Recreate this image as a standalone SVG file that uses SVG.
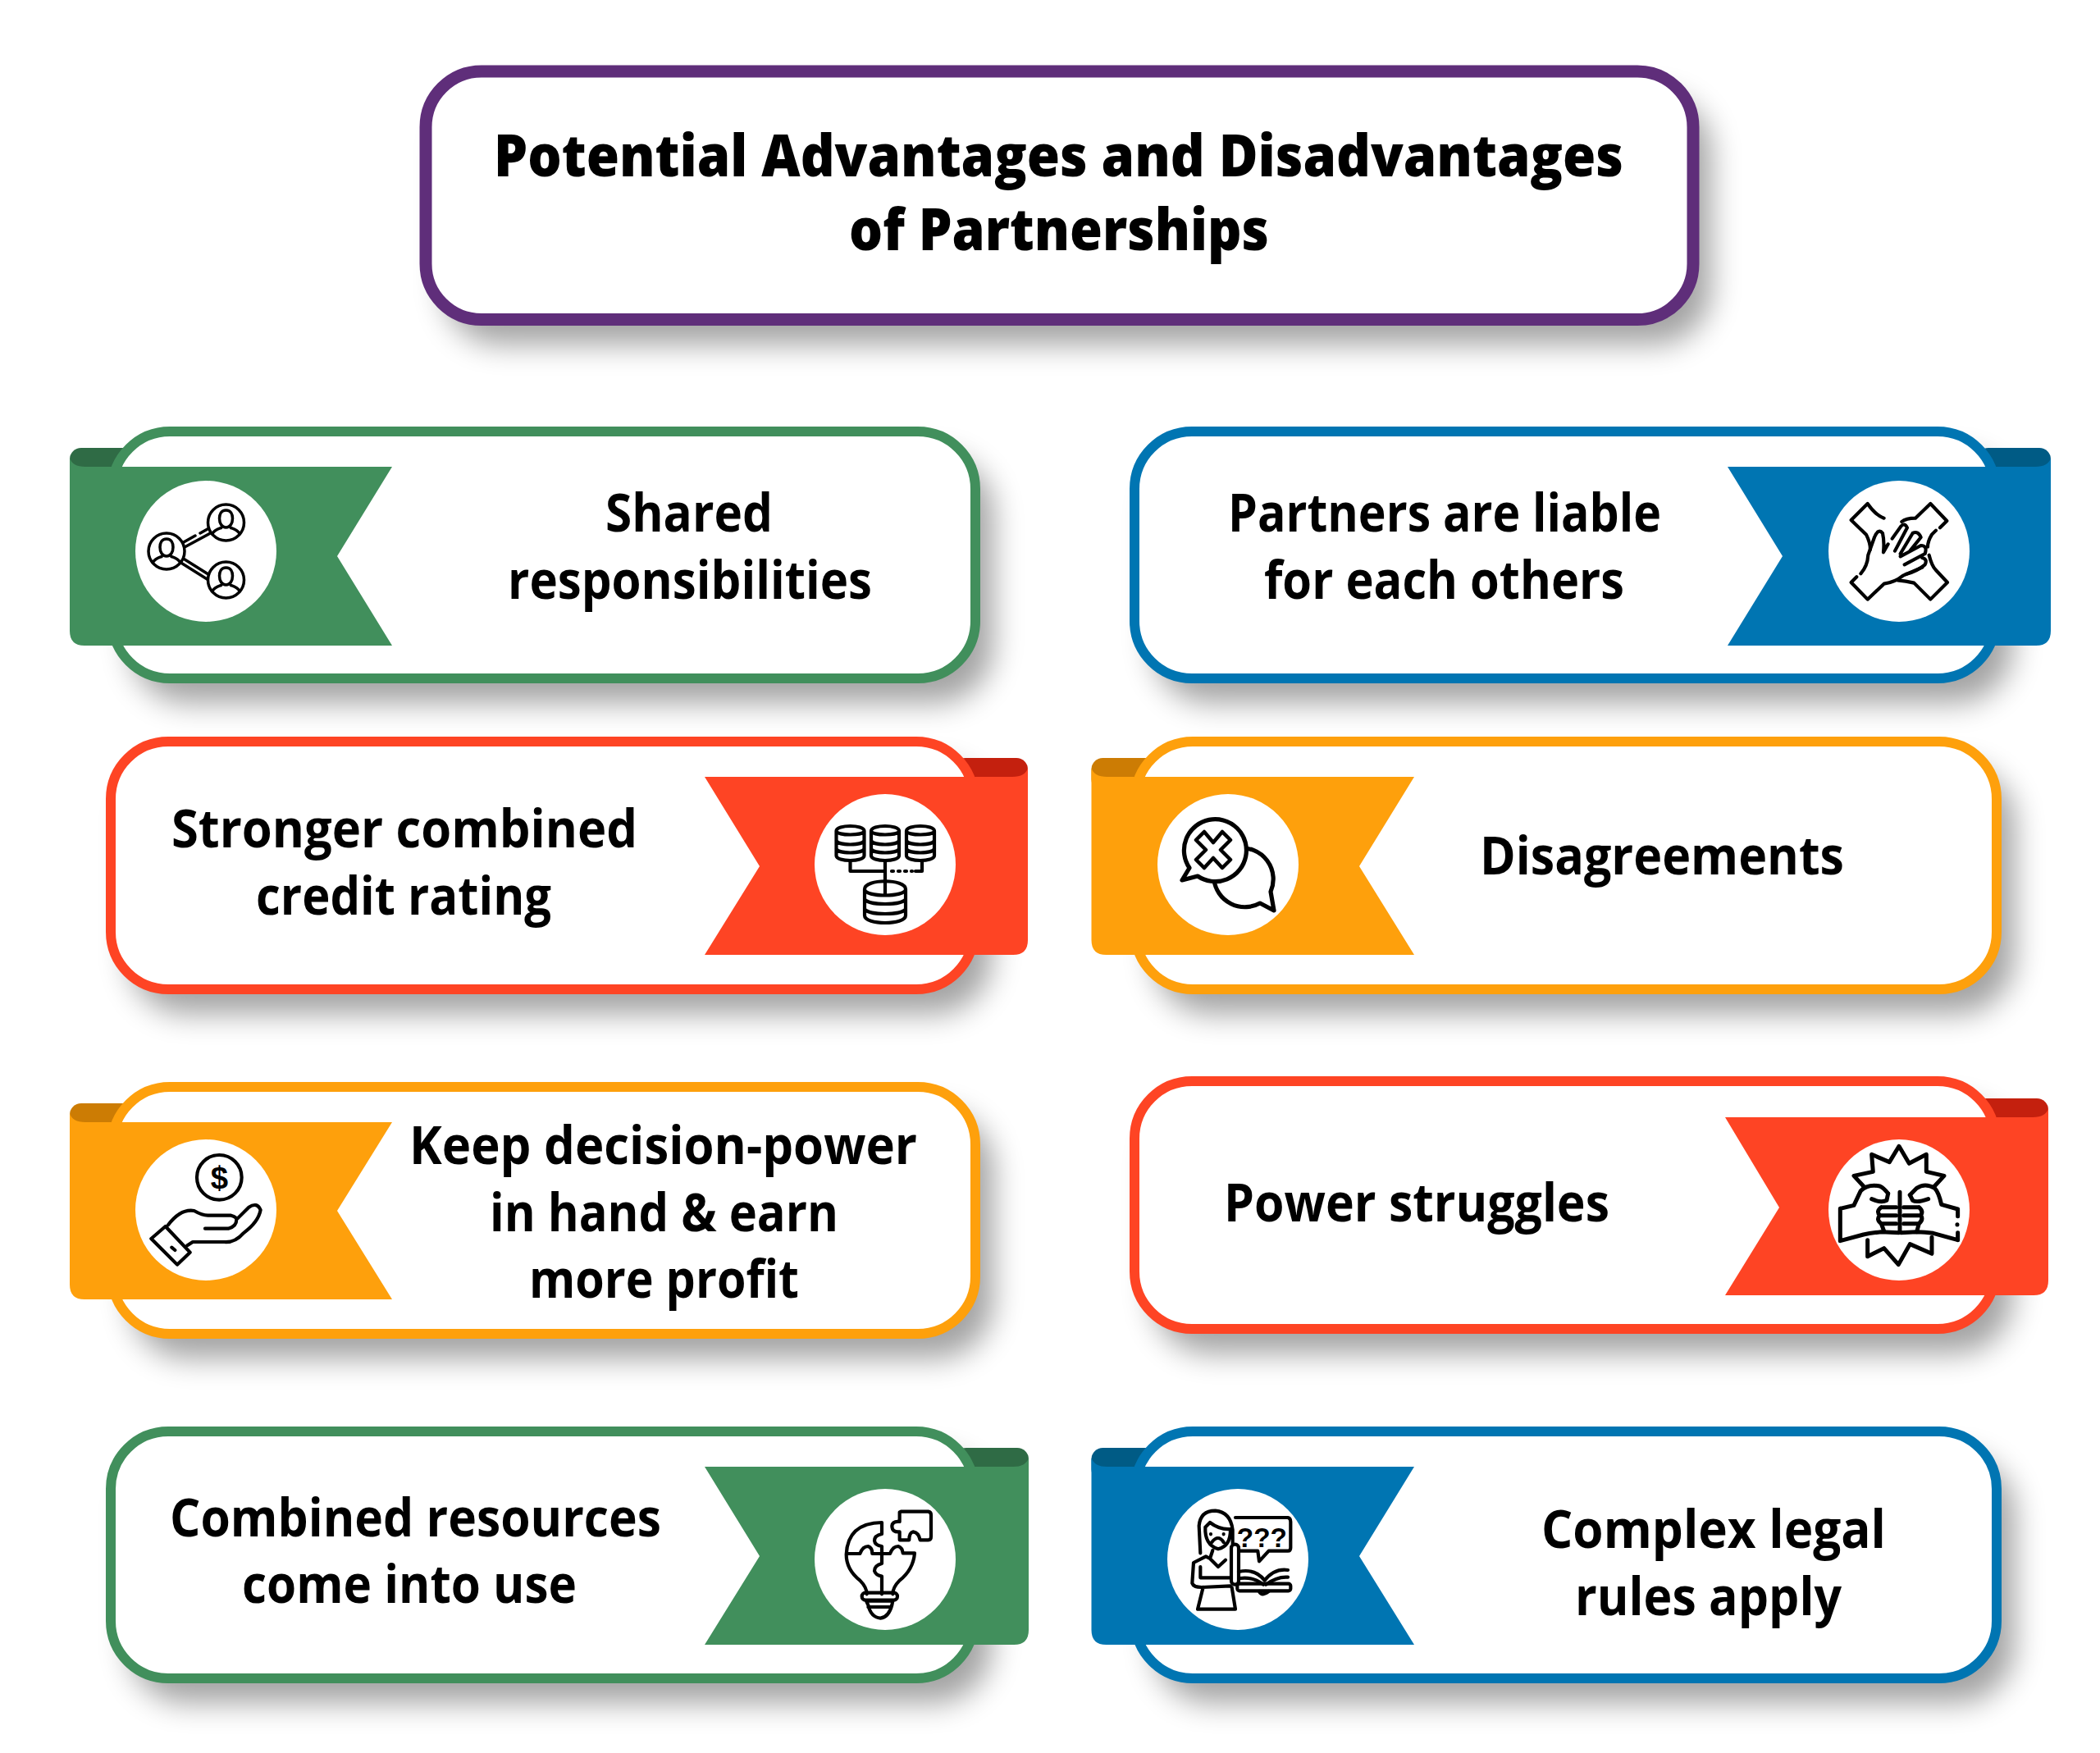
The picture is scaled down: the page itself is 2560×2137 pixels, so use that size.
<svg xmlns="http://www.w3.org/2000/svg" xmlns:xlink="http://www.w3.org/1999/xlink" width="2560" height="2137" viewBox="0 0 2560 2137">
<style>
text{font-family:"Open Sans","Noto Sans","Liberation Sans",sans-serif;fill:#000}
.t{font-size:64px;font-weight:700}
.h{font-size:71px;font-weight:800}
.sh{fill:#000;opacity:.36;filter:url(#blur)}
.card{fill:#fff;stroke-width:12}
.g .card{stroke:#418f5c}.g .rb{fill:#418f5c}.g .fd{fill:#2f6b45}
.b .card{stroke:#0075b2}.b .rb{fill:#0075b2}.b .fd{fill:#005b85}
.r .card{stroke:#fe4424}.r .rb{fill:#fe4424}.r .fd{fill:#c4200e}
.o .card{stroke:#fea00c}.o .rb{fill:#fea00c}.o .fd{fill:#cc7c04}
.disc{fill:#fff}
.i{fill:none;stroke:#000;stroke-width:4.200;stroke-linecap:round;stroke-linejoin:round}
.z{fill:none;stroke:#000;stroke-width:12.500;stroke-linecap:round;stroke-linejoin:round}
.gly{font-family:"Liberation Sans",sans-serif;font-weight:700}
</style>
<defs>
<filter id="blur" x="-10%" y="-30%" width="120%" height="170%"><feGaussianBlur stdDeviation="18"/></filter>
<g id="person"><circle r="22" fill="#fff"/><circle r="22" class="i" style="stroke-width:3.500"/><path class="i" style="stroke-width:3.500" d="M0 -15C-6 -15 -8 -10 -8 -5C-8 1 -5 6 0 6C5 6 8 1 8 -5C8 -10 6 -15 0 -15ZM-17 14C-14 9 -10 8 -6 6.500M17 14C14 9 10 8 6 6.500"/></g>
<g id="db"><path class="i" d="M-17 7C-17 -1 17 -1 17 7C17 13 -17 13 -17 7ZM-17 7V37C-17 45 17 45 17 37V7M-17 19C-14 25 14 25 17 19M-17 29C-14 35 14 35 17 29"/></g>
</defs>

<g id="title">
<rect class="sh" x="541" y="117" width="1545" height="303" rx="68"/>
<rect x="519" y="87" width="1545" height="302.500" rx="68" fill="#fff" stroke="#5f2e7a" stroke-width="15"/>
<text class="h" x="602" y="215" textLength="1377" lengthAdjust="spacingAndGlyphs">Potential Advantages and Disadvantages</text>
<text class="h" x="1035" y="305" textLength="512" lengthAdjust="spacingAndGlyphs">of Partnerships</text>
</g>

<g id="card-shared" class="g">
<rect class="sh" x="159" y="556" width="1052" height="301" rx="70"/>
<rect class="fd" x="85" y="546" width="90" height="40" rx="14"/>
<rect class="card" x="137" y="526" width="1052" height="301" rx="70"/>
<path class="rb" d="M85 558Q88 569 104 569H478L411 678L478 787H103Q85 787 85 769Z"/>
<circle class="disc" cx="251" cy="672" r="86"/>
<path class="i" style="stroke-width:3.500" d="M222 662L238 653M244 650L258 642M225 667L260 648M222 680L257 702M219 685L254 707"/>
<use xlink:href="#person" href="#person" x="275.500" y="637"/>
<use xlink:href="#person" href="#person" x="203" y="672"/>
<use xlink:href="#person" href="#person" x="275.500" y="707"/>
<text class="t" x="738" y="648" textLength="204" lengthAdjust="spacingAndGlyphs">Shared</text>
<text class="t" x="619" y="730" textLength="444" lengthAdjust="spacingAndGlyphs">responsibilities</text>
</g>

<g id="card-liable" class="b">
<rect class="sh" x="1405" y="556" width="1049" height="301" rx="70"/>
<rect class="fd" x="2410" y="546" width="90" height="40" rx="14"/>
<rect class="card" x="1383" y="526" width="1049" height="301" rx="70"/>
<path class="rb" d="M2500 558Q2497 569 2481 569H2106L2173 678L2106 787H2482Q2500 787 2500 769Z"/>
<circle class="disc" cx="2315" cy="672" r="86"/>
<g transform="translate(2080 500) scale(.3333)">
<path class="z" d="M650 395Q620 385 590 342L530 402L585 455Q600 485 600 510M715 408Q730 395 765 395L820 342L880 405L855 430M840 440L825 455Q810 480 810 500M815 530Q825 570 840 585L882 630L820 692L760 632Q730 625 700 622M550 610L530 630L590 692L650 635Q690 630 720 605L790 575"/>
<path class="z" d="M565 598Q590 570 592 530L615 465Q630 430 645 450Q652 480 648 520L665 490M680 470L712 425Q725 410 735 430L690 515M710 525L755 450Q775 440 785 465L745 515M710 535L785 495Q810 495 800 525L725 565M790 540Q810 545 800 565Q770 590 730 600"/>
</g>
<text class="t" x="1497" y="648" textLength="528" lengthAdjust="spacingAndGlyphs">Partners are liable</text>
<text class="t" x="1541" y="730" textLength="439" lengthAdjust="spacingAndGlyphs">for each others</text>
</g>

<g id="card-credit" class="r">
<rect class="sh" x="157" y="934" width="1052" height="302" rx="70"/>
<rect class="fd" x="1163" y="924" width="90" height="40" rx="14"/>
<rect class="card" x="135" y="904" width="1052" height="302" rx="70"/>
<path class="rb" d="M1253 936Q1250 947 1234 947H859L926 1056L859 1164H1235Q1253 1164 1253 1146Z"/>
<circle class="disc" cx="1079" cy="1054" r="86"/>
<use xlink:href="#db" href="#db" x="1036.500" y="1006"/>
<use xlink:href="#db" href="#db" x="1079" y="1006"/>
<use xlink:href="#db" href="#db" x="1122" y="1006"/>
<path class="i" d="M1036.500 1049V1062H1079M1079 1049V1090M1124 1049V1062H1116"/>
<path class="i" stroke-dasharray="2 6" d="M1087 1062H1112"/>
<path class="i" d="M1054 1084C1054 1071 1104 1071 1104 1084C1104 1094 1054 1094 1054 1084ZM1054 1084V1116C1054 1128 1104 1128 1104 1116V1084M1054 1096C1058 1104 1100 1104 1104 1096M1054 1108C1058 1116 1100 1116 1104 1108"/>
<text class="t" x="209" y="1033" textLength="568" lengthAdjust="spacingAndGlyphs">Stronger combined</text>
<text class="t" x="312" y="1115" textLength="360" lengthAdjust="spacingAndGlyphs">credit rating</text>
</g>

<g id="card-disagreements" class="o">
<rect class="sh" x="1406" y="934" width="1050" height="302" rx="70"/>
<rect class="fd" x="1330.500" y="924" width="90" height="40" rx="14"/>
<rect class="card" x="1384" y="904" width="1050" height="302" rx="70"/>
<path class="rb" d="M1330.500 936Q1333.500 947 1349.500 947H1724L1657 1056L1724 1164H1348.500Q1330.500 1164 1330.500 1146Z"/>
<circle class="disc" cx="1497" cy="1054" r="86"/>
<path class="i" style="stroke-width:5.200" d="M1510 1034A38 38 0 0 1 1549 1087L1553 1110L1536 1101A38 38 0 0 1 1480 1073"/>
<path class="i" style="stroke-width:5.200;fill:#fff" d="M1450 1058L1441 1073L1460 1068A38 38 0 1 0 1450 1058Z"/>
<path class="i" style="stroke-width:4.500" d="M1479 1027L1490 1014L1500 1024L1488 1036L1500 1048L1490 1058L1479 1046L1468 1058L1458 1048L1470 1036L1458 1024L1468 1014Z"/>
<text class="t" x="1804" y="1066" textLength="444" lengthAdjust="spacingAndGlyphs">Disagreements</text>
</g>

<g id="card-profit" class="o">
<rect class="sh" x="159" y="1355" width="1052" height="301" rx="70"/>
<rect class="fd" x="85" y="1345" width="90" height="40" rx="14"/>
<rect class="card" x="137" y="1325" width="1052" height="301" rx="70"/>
<path class="rb" d="M85 1357Q88 1368 104 1368H478L411 1476L478 1584H103Q85 1584 85 1566Z"/>
<circle class="disc" cx="251" cy="1475" r="86"/>
<g transform="translate(140 1340) scale(.3333)">
<circle class="z" cx="382" cy="286" r="82"/>
<path class="z" d="M195 460Q240 400 290 408Q320 425 340 425H425Q445 430 445 440L490 395Q520 375 533 405Q525 450 470 490Q440 525 400 522H285L265 535M330 473H415Q445 465 445 440M133 510L185 465L275 560L228 605ZM208 542L220 552"/>
<text class="gly" x="382" y="326" font-size="115" text-anchor="middle">$</text>
</g>
<text class="t" x="499" y="1419" textLength="619" lengthAdjust="spacingAndGlyphs">Keep decision-power</text>
<text class="t" x="597" y="1501" textLength="425" lengthAdjust="spacingAndGlyphs">in hand &amp; earn</text>
<text class="t" x="645" y="1582" textLength="329" lengthAdjust="spacingAndGlyphs">more profit</text>
</g>

<g id="card-power" class="r">
<rect class="sh" x="1405" y="1348" width="1049" height="302" rx="70"/>
<rect class="fd" x="2407" y="1339" width="90" height="40" rx="14"/>
<rect class="card" x="1383" y="1318" width="1049" height="302" rx="70"/>
<path class="rb" d="M2497 1351Q2494 1362 2478 1362H2103L2169 1472L2103 1579H2479Q2497 1579 2497 1561Z"/>
<circle class="disc" cx="2315" cy="1475" r="86"/>
<g transform="translate(2080 1320) scale(.3333)">
<path class="z" style="stroke-width:15" d="M575 378L540 340L610 325L605 262L670 290L705 232L742 295L805 262L805 325L870 340L835 378M590 575V635L650 605L703 665L745 590L825 625V565"/>
<path class="z" style="stroke-width:15" d="M920 462L860 445Q850 400 835 385Q800 365 770 385L745 410M920 575L830 550Q800 545 770 545L712 548M490 460V578L575 555Q600 550 640 545L705 548M490 460L540 448L565 395Q590 370 635 378Q650 385 665 405M708 400V545M920 462V488M920 548V575M918 518V519"/>
<path class="z" style="stroke-width:15" d="M605 425Q640 440 660 430L665 405M812 425Q770 440 755 430L745 410M640 455H695M635 485H695M640 515H695M650 542L640 515M640 455Q620 470 635 485Q620 500 640 515M722 455H778M722 485H785M722 515H778M778 455Q795 470 785 485Q795 500 778 515L770 545"/>
</g>
<text class="t" x="1492" y="1489" textLength="470" lengthAdjust="spacingAndGlyphs">Power struggles</text>
</g>

<g id="card-resources" class="g">
<rect class="sh" x="157" y="1775" width="1052" height="301" rx="70"/>
<rect class="fd" x="1164" y="1765" width="90" height="40" rx="14"/>
<rect class="card" x="135" y="1745" width="1052" height="301" rx="70"/>
<path class="rb" d="M1254 1777Q1251 1788 1235 1788H859L926 1897L859 2005H1236Q1254 2005 1254 1987Z"/>
<circle class="disc" cx="1079" cy="1901" r="86"/>
<g transform="translate(980 1780) scale(.3333)">
<path class="z" d="M285 228Q160 230 155 345Q155 400 205 440Q230 465 230 490M405 340Q400 400 350 440Q325 465 325 490M155 342H205Q215 315 235 315Q250 320 250 342H315Q325 315 345 315Q360 320 362 340H405M285 228V270Q258 275 258 295Q260 312 285 315V378Q258 385 258 405Q262 420 285 425V490"/>
<rect class="z" x="212" y="485" width="130" height="27" rx="13"/>
<path class="z" d="M228 515H325L322 530Q310 575 280 578Q245 575 235 530ZM235 537H320"/>
<path class="z" d="M355 188H455Q465 190 465 200V280Q465 292 455 292H425Q420 265 400 262Q385 265 385 292H350V262Q322 265 322 240Q325 222 350 225V190Z"/>
</g>
<text class="t" x="207" y="1873" textLength="599" lengthAdjust="spacingAndGlyphs">Combined resources</text>
<text class="t" x="295" y="1954" textLength="408" lengthAdjust="spacingAndGlyphs">come into use</text>
</g>

<g id="card-legal" class="b">
<rect class="sh" x="1406" y="1775" width="1050" height="301" rx="70"/>
<rect class="fd" x="1330.500" y="1765" width="90" height="40" rx="14"/>
<rect class="card" x="1384" y="1745" width="1050" height="301" rx="70"/>
<path class="rb" d="M1330.500 1777Q1333.500 1788 1349.500 1788H1724L1657 1897L1724 2005H1348.500Q1330.500 2005 1330.500 1987Z"/>
<circle class="disc" cx="1509" cy="1901" r="86"/>
<g transform="translate(1400 1790) scale(.3333)">
<path class="z" d="M190 310L185 210Q190 155 245 155Q300 160 308 225V275M208 215Q205 280 255 295Q300 285 300 225M208 215L225 198Q260 225 300 222M228 240V241M275 240V241M232 270Q255 240 275 270M225 330L255 360L282 335M235 300L225 330L210 322L165 345L160 420Q165 435 195 435L300 430M190 360V400H300M200 435L180 515H318L305 435"/>
<rect class="z" x="303" y="278" width="27" height="147" rx="13"/>
<path class="z" d="M318 180H510Q520 182 520 195V290Q520 302 510 302H440L405 340L400 302H335M330 378Q390 365 425 410Q460 365 510 372M335 402Q380 395 420 425M510 398Q470 395 430 425M405 450Q415 470 440 450"/>
<rect class="z" x="325" y="422" width="195" height="26" rx="8"/>
<text class="gly" x="415" y="287" font-size="100" text-anchor="middle">???</text>
</g>
<text class="t" x="1879" y="1887" textLength="420" lengthAdjust="spacingAndGlyphs">Complex legal</text>
<text class="t" x="1920" y="1969" textLength="325" lengthAdjust="spacingAndGlyphs">rules apply</text>
</g>
</svg>
